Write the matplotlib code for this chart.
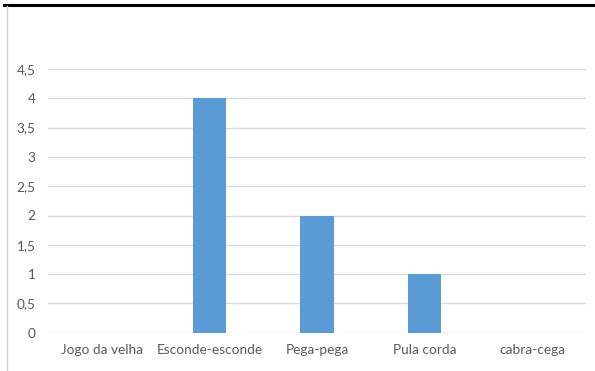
import matplotlib.pyplot as plt
from matplotlib.lines import Line2D

# Brincadeiras e votos
brincadeiras = ["Jogo da velha", "Esconde-esconde", "Pega-pega", "Pula corda", "cabra-cega"]
votos = [0, 4, 2, 1, 0]
yticks = [0, 0.5, 1, 1.5, 2, 2.5, 3, 3.5, 4, 4.5]
ylabels = ["0", "0,5", "1", "1,5", "2", "2,5", "3", "3,5", "4", "4,5"]

plt.rcParams['font.family'] = ['Lato', 'DejaVu Sans']

fig = plt.figure(figsize=(5.95, 3.71), dpi=100)
W, H = 595, 371
ax = fig.add_axes([48 / W, 1 - 332.7 / H, (586 - 48) / W, (332.7 - 69) / H])

x = range(len(brincadeiras))
ax.bar(x, votos, width=0.31, color="#5B9BD5", zorder=3)

ax.set_xlim(-0.5, len(brincadeiras) - 0.5)
ax.set_ylim(0, 4.5)
ax.set_yticks(yticks)
ax.set_yticklabels(ylabels)
ax.set_xticks(list(x))
ax.set_xticklabels(brincadeiras)
ax.tick_params(axis="both", length=0, labelsize=9.8, colors="#595959")
ax.tick_params(axis="y", pad=9)
ax.tick_params(axis="x", pad=8)
ax.grid(axis="y", color="#D9D9D9", linewidth=1, zorder=0)
for s in ax.spines.values():
    s.set_visible(False)

# moldura: linha preta no topo e borda cinza à esquerda
fig.add_artist(Line2D([4 / W, 1], [1 - 5 / H, 1 - 5 / H], color="black", linewidth=2.2))
fig.add_artist(Line2D([6.5 / W, 6.5 / W], [0, 1 - 6 / H], color="#D0D0D0", linewidth=1))

fig.savefig("out.png", dpi=100)
